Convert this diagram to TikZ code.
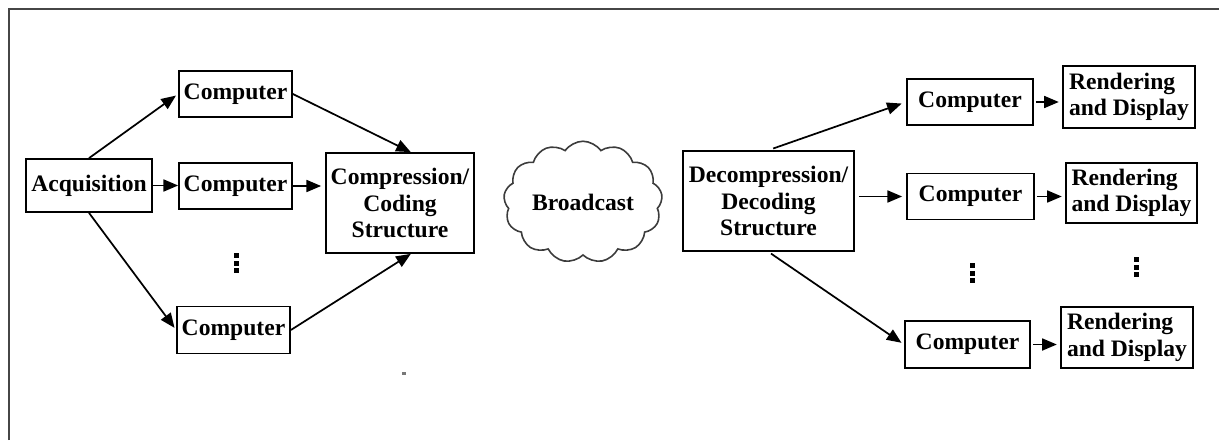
\documentclass[tikz,border=0pt]{standalone}
\usepackage{fontspec}
\setmainfont{Liberation Serif}
\usetikzlibrary{arrows.meta,shapes.symbols}

\tikzset{every picture/.style={line width=0.75pt}}
\tikzset{
  box/.style={draw, line width=1.3pt, inner sep=0pt, align=center,
    font=\fontsize{17.7}{19.9}\selectfont\bfseries},
  link/.style={-{Triangle[length=11pt,width=9pt]}, line width=1.3pt},
}

\begin{document}
\begin{tikzpicture}[x=0.75pt,y=0.75pt,yscale=-1,xscale=1]
\useasboundingbox (0,0) rectangle (1219,440);

%Shape: Frame
\draw [line width=1.8pt, color={rgb, 255:red, 70; green, 70; blue, 70 }] (9,440) -- (9,9) -- (1219,9) ;

% Capture side
\node (acq) at (89,185.5) [box, minimum width=94.5pt, minimum height=39.75pt] {Acquisition};
\node (cpa) at (235.5,94) [box, minimum width=84.75pt, minimum height=34.5pt] {Computer};
\node (cpb) at (235.5,186) [box, minimum width=84.75pt, minimum height=34.5pt] {Computer};
\node (cpc) at (233.5,330) [box, minimum width=84.75pt, minimum height=35.25pt] {Computer};
\node (enc) at (400,203) [box, minimum width=111pt, minimum height=75pt] {Compression/\\Coding\\Structure};

% Channel
\node (cast) at (583,202) [cloud, cloud puffs=13, cloud puff arc=110, aspect=1.35, draw, line width=1.2pt,
  color={rgb, 255:red, 60; green, 60; blue, 60 }, text=black, inner sep=0pt,
  minimum width=119pt, minimum height=89pt, font=\fontsize{17.7}{19.9}\selectfont\bfseries] {Broadcast};

% Display side
\node (dec) at (768.5,201) [box, minimum width=128.25pt, minimum height=75pt] {Decompression/\\Decoding\\Structure};
\node (cpd) at (970,102) [box, minimum width=94.5pt, minimum height=34.5pt] {Computer};
\node (cpe) at (970.5,196.5) [box, minimum width=95.25pt, minimum height=34.5pt] {Computer};
\node (cpf) at (967.5,344.5) [box, minimum width=94pt, minimum height=35.25pt] {Computer};
\node (rda) at (1129,97) [box, align=left, minimum width=99pt, minimum height=46.5pt] {Rendering\\and Display};
\node (rdb) at (1131.5,193) [box, align=left, minimum width=98.25pt, minimum height=45pt] {Rendering\\and Display};
\node (rdc) at (1127,337.5) [box, align=left, minimum width=99pt, minimum height=45.75pt] {Rendering\\and Display};

% Connectors
\draw [link, shorten >=2pt] (acq.north) -- (cpa.west) ;
\draw [link] (acq.east) -- (acq.east -| cpb.west) ;
\draw [link, shorten >=2pt] (acq.south) -- (cpc.west) ;
\draw [link] (cpa.east) -- (enc.78) ;
\draw [link, shorten >=3pt] (cpb.east) -- (cpb.east -| enc.west) ;
\draw [link] (cpc.east) -- (enc.-78) ;
\draw [link, shorten <=3.75pt, shorten >=3.5pt] (dec.north) -- (cpd.west) ;
\draw [link, shorten <=3pt, shorten >=3pt] (dec.east |- cpe.west) -- (cpe.west) ;
\draw [link, shorten <=2.25pt, shorten >=2.25pt] (dec.south) -- (cpf.west) ;
\draw [link, shorten <=1.5pt, shorten >=2.5pt] (cpd.east) -- (cpd.east -| rda.west) ;
\draw [link, shorten <=1.5pt, shorten >=2.5pt] (cpe.east) -- (cpe.east -| rdb.west) ;
\draw [link, shorten <=1.5pt, shorten >=2.5pt] (cpf.east) -- (cpf.east -| rdc.west) ;

%Shape: Vertical dots
\foreach \x/\y in {236/253, 972/263, 1136/257}
  \foreach \k in {0,1,2}
    \fill (\x-2.5,\y+\k*7.5) rectangle ++(5,5) ;
%Shape: Stray mark
\fill [color={rgb, 255:red, 120; green, 120; blue, 120 }] (402,371.5) rectangle ++(4,3) ;

\end{tikzpicture}
\end{document}
